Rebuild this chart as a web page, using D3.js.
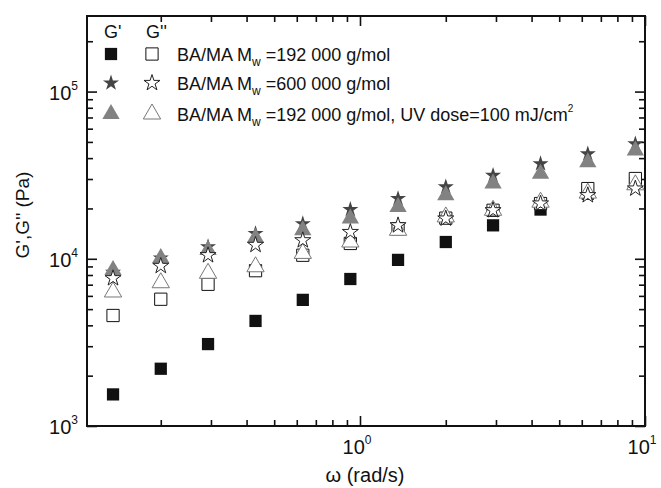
<!DOCTYPE html>
<html>
<head>
<meta charset="utf-8">
<script src="https://cdn.jsdelivr.net/npm/d3@7"></script>
<style>
  body { margin: 0; background: #fff; }
  text { font-family: "Liberation Sans", Arial, sans-serif; fill: #111; }
</style>
</head>
<body>
<div id="chart"></div>
<script>
// frequency (rad/s)
var omega = [0.136, 0.2, 0.293, 0.43, 0.63, 0.925, 1.36, 2.0, 2.93, 4.3, 6.3, 9.25];

// BA/MA Mw = 192 000 g/mol
var gp192  = [1545, 2200, 3090, 4250, 5680, 7570, 9850, 12600, 15850, 19700, 24500, 28500];
var gpp192 = [4580, 5730, 7040, 8490, 10500, 12350, 15150, 17500, 19500, 21400, 26300, 30200];
// BA/MA Mw = 600 000 g/mol
var gp600  = [8300, 10100, 11800, 14150, 16200, 19700, 22900, 26900, 31500, 37000, 42400, 48600];
var gpp600 = [7650, 9060, 10500, 12100, 12900, 14450, 15850, 17400, 19500, 21400, 24000, 26300];
// BA/MA Mw = 192 000 g/mol, UV dose = 100 mJ/cm2
var gpUV   = [8570, 10100, 11300, 13350, 14800, 17400, 20400, 24000, 28200, 32200, 37800, 44400];
var gppUV  = [6330, 7190, 8190, 8960, 10770, 12600, 14800, 17800, 19500, 21800, 24700, 27700];

var legendNames = ["BA/MA M|w| =192 000 g/mol", "BA/MA M|w| =600 000 g/mol", "BA/MA M|w| =192 000 g/mol, UV dose=100 mJ/cm|2"];

var svgWidth = 661;
var svgHeight = 488;
var margin = { top: 16, left: 87, right: 16, bottom: 62 };
var width = svgWidth - margin.left - margin.right;
var height = svgHeight - margin.top - margin.bottom;

var svg = d3.select("#chart").append("svg")
    .attr("width", svgWidth)
    .attr("height", svgHeight);

var g = svg.append("g")
    .attr("transform", `translate(${margin.left}, ${margin.top})`);

var x = d3.scaleLog().domain([0.1102, 10]).range([0, width]);
var y = d3.scaleLog().domain([1000, Math.pow(10, 5.452)]).range([height, 0]);

// tick values
var xMajor = [1, 10];
var xMinor = [];
[0.1, 1].forEach(function (dec) {
    for (var k = 2; k <= 9; k++) if (dec * k > 0.1102 && dec * k < 10) xMinor.push(dec * k);
});
var yMajor = [1000, 10000, 100000];
var yMinor = [];
[1000, 10000, 100000].forEach(function (dec) {
    for (var k = 2; k <= 9; k++) if (dec * k < Math.pow(10, 5.452)) yMinor.push(dec * k);
});

function tickAxis(axisFn, scale, vals, len) {
    return axisFn(scale).tickValues(vals).tickSizeInner(-len).tickSizeOuter(0).tickFormat("");
}

function styleAxis(sel) {
    sel.select(".domain").remove();
    sel.selectAll(".tick line").attr("stroke", "#111").attr("stroke-width", 1.6);
}

// bottom/top, left/right ticks (inward)
[[d3.axisBottom, height], [d3.axisTop, 0]].forEach(function (a) {
    g.append("g").attr("transform", `translate(0, ${a[1]})`)
        .call(tickAxis(a[0], x, xMajor, 10)).call(styleAxis);
    g.append("g").attr("transform", `translate(0, ${a[1]})`)
        .call(tickAxis(a[0], x, xMinor, 6)).call(styleAxis);
});
[[d3.axisLeft, 0], [d3.axisRight, width]].forEach(function (a) {
    g.append("g").attr("transform", `translate(${a[1]}, 0)`)
        .call(tickAxis(a[0], y, yMajor, 10)).call(styleAxis);
    g.append("g").attr("transform", `translate(${a[1]}, 0)`)
        .call(tickAxis(a[0], y, yMinor, 6)).call(styleAxis);
});

g.append("rect")
    .attr("width", width)
    .attr("height", height)
    .attr("fill", "none")
    .attr("stroke", "#111")
    .attr("stroke-width", 2);

// tick labels with exponents
g.selectAll(".xlab").data(xMajor).enter().append("text")
    .attr("x", d => x(d) - 3)
    .attr("y", height + 28)
    .attr("text-anchor", "middle")
    .attr("font-size", 20)
    .each(function (d) {
        var t = d3.select(this);
        t.append("tspan").text("10");
        t.append("tspan").attr("font-size", 12).attr("dy", -10).text(Math.round(Math.log10(d)));
    });

g.selectAll(".ylab").data(yMajor).enter().append("text")
    .attr("x", -9)
    .attr("y", d => y(d) + 8)
    .attr("text-anchor", "end")
    .attr("font-size", 20)
    .each(function (d) {
        var t = d3.select(this);
        t.append("tspan").text("10");
        t.append("tspan").attr("font-size", 12).attr("dy", -10).text(Math.round(Math.log10(d)));
    });

// axis titles
g.append("text")
    .attr("transform", "rotate(-90)")
    .attr("x", -(215 - margin.top))
    .attr("y", 22 - margin.left + 7)
    .attr("text-anchor", "middle")
    .attr("font-size", 19)
    .text("G',G'' (Pa)");

g.append("text")
    .attr("x", 365 - margin.left)
    .attr("y", 482 - margin.top)
    .attr("text-anchor", "middle")
    .attr("font-size", 20)
    .text("\u03c9 (rad/s)");

// markers
var sq = d3.symbol().type(d3.symbolSquare).size(150);
var st = d3.symbol().type(d3.symbolStar).size(80);
var tr = d3.symbol().type(d3.symbolTriangle).size(130);

var series = [
    { vals: gp192,  sym: sq, fill: "#111",    stroke: "none" },
    { vals: gp600,  sym: st, fill: "#444",    stroke: "none" },
    { vals: gpUV,   sym: tr, fill: "#828282", stroke: "none" },
    { vals: gpp192, sym: sq, fill: "#fff",    stroke: "#111" },
    { vals: gppUV,  sym: tr, fill: "#fff",    stroke: "#777" },
    { vals: gpp600, sym: st, fill: "#fff",    stroke: "#222" }
];

series.forEach(function (s) {
    g.append("g").selectAll("path")
        .data(s.vals)
        .enter()
        .append("path")
        .attr("d", s.sym)
        .attr("transform", (d, i) => `translate(${x(omega[i])}, ${y(d)})`)
        .attr("fill", s.fill)
        .attr("stroke", s.stroke)
        .attr("stroke-width", 1);
});

// legend
var lg = svg.append("g");
lg.append("text").attr("x", 104).attr("y", 38).attr("font-size", 18).text("G'");
lg.append("text").attr("x", 146).attr("y", 38).attr("font-size", 18).text("G''");

var legendRows = [
    { y: 54,  filled: series[0], open: series[3] },
    { y: 83,  filled: series[1], open: series[5] },
    { y: 114, filled: series[2], open: series[4] }
];

legendRows.forEach(function (r, i) {
    lg.append("path").attr("d", r.filled.sym)
        .attr("transform", `translate(111, ${r.y})`)
        .attr("fill", r.filled.fill);
    lg.append("path").attr("d", r.open.sym)
        .attr("transform", `translate(152, ${r.y})`)
        .attr("fill", "#fff").attr("stroke", r.open.stroke).attr("stroke-width", 1);

    var parts = legendNames[i].split("|");
    var t = lg.append("text").attr("x", 177).attr("y", r.y + 7).attr("font-size", 18);
    t.append("tspan").text(parts[0]);
    t.append("tspan").attr("font-size", 12).attr("dy", 5).text(parts[1]);
    t.append("tspan").attr("dy", -5).text(parts[2]);
    if (parts[3]) t.append("tspan").attr("font-size", 10).attr("dy", -9).text(parts[3]);
});
</script>
</body>
</html>
